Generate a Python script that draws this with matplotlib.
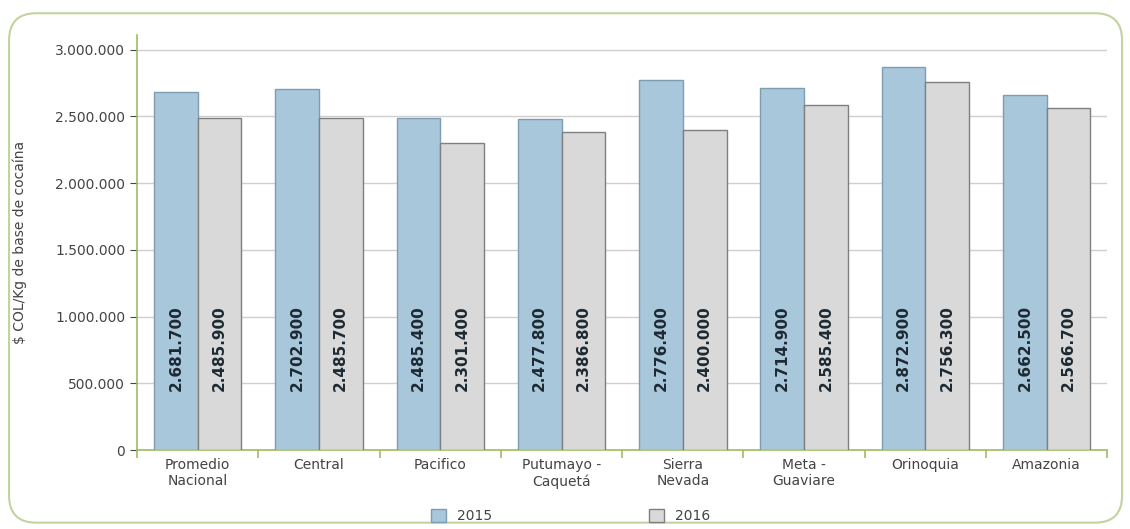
import matplotlib
matplotlib.use("Agg")
import matplotlib.pyplot as plt
import numpy as np
from matplotlib.patches import FancyBboxPatch
from matplotlib.ticker import FuncFormatter, FixedLocator

categories = ["Promedio\nNacional", "Central", "Pacifico", "Putumayo -\nCaquetá",
              "Sierra\nNevada", "Meta -\nGuaviare", "Orinoquia", "Amazonia"]
values_2015 = [2681700, 2702900, 2485400, 2477800, 2776400, 2714900, 2872900, 2662500]
values_2016 = [2485900, 2485700, 2301400, 2386800, 2400000, 2585400, 2756300, 2566700]
series_names = ["2015", "2016"]

COLORS = {
    "blue": "#a9c7db",
    "blue_edge": "#7d9db3",
    "grey": "#d9d9d9",
    "grey_edge": "#7f7f7f",
    "green": "#9dbd5f",
    "frame": "#c2d3a0",
    "grid": "#cfcfcf",
    "text": "#444444",
    "label": "#1e2a33",
}


def dots(v, _pos=None):
    return f"{int(v):,}".replace(",", ".")


fig = plt.figure(figsize=(11.3, 5.29), dpi=100, facecolor="white")
frame = FancyBboxPatch((0.008, 0.012), 0.985, 0.963, boxstyle="round,pad=0,rounding_size=0.024",
                       transform=fig.transFigure, facecolor="none", edgecolor=COLORS["frame"],
                       linewidth=1.5, mutation_aspect=1130 / 529, zorder=0)
fig.patches.append(frame)

ax = fig.add_axes([0.1212, 0.1493, 0.8588, 0.7845])
ax.set_facecolor("none")
x = np.arange(len(categories))
w = 0.36
b1 = ax.bar(x - w / 2, values_2015, w, color=COLORS["blue"], edgecolor=COLORS["blue_edge"], linewidth=1, zorder=3)
b2 = ax.bar(x + w / 2, values_2016, w, color=COLORS["grey"], edgecolor=COLORS["grey_edge"], linewidth=1, zorder=3)

for bars, vals in ((b1, values_2015), (b2, values_2016)):
    for rect, v in zip(bars, vals):
        ax.text(rect.get_x() + rect.get_width() / 2, 765000, dots(v), rotation=90,
                ha="center", va="center", fontsize=11, fontweight="bold", color=COLORS["label"], zorder=4)

ax.set_xlim(-0.5, len(categories) - 0.5)
ax.set_ylim(0, 3110000)
ax.set_yticks(np.arange(0, 3000001, 500000))
ax.yaxis.set_major_formatter(FuncFormatter(dots))
ax.grid(axis="y", color=COLORS["grid"], linewidth=1, zorder=0)

ax.set_xticks(x)
ax.set_xticklabels(categories, fontsize=10, color=COLORS["text"], linespacing=1.15)
ax.xaxis.set_minor_locator(FixedLocator(np.arange(-0.5, len(categories), 1.0)))
ax.tick_params(axis="x", which="major", length=0, pad=6)
ax.tick_params(axis="x", which="minor", length=6, color=COLORS["green"], width=1.2)
ax.tick_params(axis="y", length=5, color=COLORS["text"], labelsize=10, labelcolor=COLORS["text"])

for side in ("top", "right"):
    ax.spines[side].set_visible(False)
ax.spines["left"].set_color(COLORS["green"])
ax.spines["bottom"].set_color(COLORS["green"])
ax.spines["left"].set_linewidth(1.2)
ax.spines["bottom"].set_linewidth(1.2)

ax.set_ylabel("$ COL/Kg de base de cocaína", fontsize=10, color=COLORS["text"], labelpad=20)

leg = fig.legend([b1, b2], series_names, loc="center", bbox_to_anchor=(0.505, 0.025), ncol=2,
                 frameon=False, fontsize=10, columnspacing=11.3, handlelength=1.1, handleheight=1.1)
for t in leg.get_texts():
    t.set_color(COLORS["text"])

fig.savefig("out.png", dpi=100, facecolor="white")
